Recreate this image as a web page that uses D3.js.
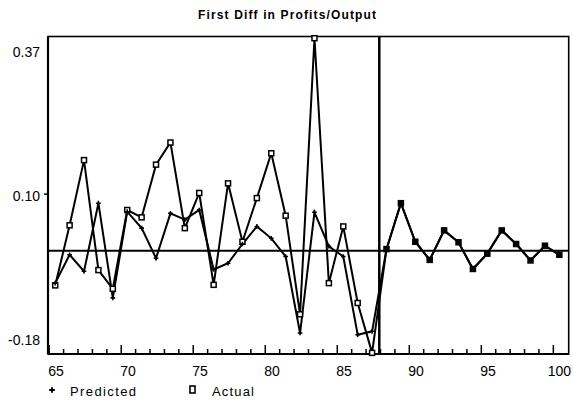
<!DOCTYPE html>
<html>
<head>
<meta charset="utf-8">
<script src="https://cdn.jsdelivr.net/npm/d3@7"></script>
<style>
  body { margin: 0; background: #fff; }
  text { font-family: "Liberation Sans", Arial, sans-serif; fill: #000; }
</style>
</head>
<body>
<div id="root"></div>
<script>
var years = [65, 66, 67, 68, 69, 70, 71, 72, 73, 74, 75, 76, 77, 78, 79, 80, 81, 82,
    83, 84, 85, 86, 87, 88, 89, 90, 91, 92, 93, 94, 95, 96, 97, 98, 99, 100];

var actual = [-0.061, 0.045, 0.160, -0.034, -0.067, 0.072, 0.059, 0.152, 0.191, 0.040,
    0.102, -0.060, 0.119, 0.016, 0.093, 0.172, 0.062, -0.112, 0.375, -0.057,
    0.043, -0.092, -0.180, 0.003, 0.084, 0.016, -0.016, 0.036, 0.015, -0.032,
    -0.005, 0.036, 0.012, -0.017, 0.009, -0.007];

var predicted = [-0.057, -0.007, -0.036, 0.084, -0.083, 0.069, 0.040, -0.013, 0.066, 0.055,
    0.072, -0.033, -0.022, 0.012, 0.043, 0.022, -0.010, -0.145, 0.068, 0.008,
    -0.010, -0.148, -0.142, 0.003, 0.084, 0.016, -0.016, 0.036, 0.015, -0.032,
    -0.005, 0.036, 0.012, -0.017, 0.009, -0.007];

var xTickYears = [65, 66, 67, 68, 69, 70, 71, 72, 73, 74, 75, 76, 77, 78, 79, 80, 81, 82,
    83, 84, 85, 86, 87, 88, 89, 90, 91, 92, 93, 94, 95, 96, 97, 98, 99, 100];
var xLabels = [65, 70, 75, 80, 85, 90, 95, 100];
var yLabels = [0.37, 0.10, -0.18];
var splitYear = 87.5;

var W = 573, H = 403;
var pLeft = 48, pRight = 568.7, pTop = 36.5, pBottom = 354;

var svg = d3.select("#root")
    .append("svg")
    .attr("width", W)
    .attr("height", H);

var x = d3.scaleLinear().domain([64.5, 100.65]).range([pLeft, pRight]);
var y = d3.scaleLinear().domain([-0.182, 0.378]).range([pBottom, pTop]);

// title
svg.append("text")
    .attr("x", 287)
    .attr("y", 19)
    .attr("text-anchor", "middle")
    .attr("font-size", 12)
    .attr("font-weight", "bold")
    .attr("textLength", 178)
    .text("First Diff in Profits/Output");

// frame
svg.append("rect")
    .attr("x", pLeft).attr("y", pTop)
    .attr("width", pRight - pLeft).attr("height", pBottom - pTop)
    .attr("fill", "none").attr("stroke", "#000").attr("stroke-width", 1.6);
svg.append("line")
    .attr("x1", pLeft).attr("x2", pLeft).attr("y1", pTop).attr("y2", pBottom)
    .attr("stroke", "#000").attr("stroke-width", 2.2);
svg.append("line")
    .attr("x1", pLeft).attr("x2", pRight).attr("y1", pBottom).attr("y2", pBottom)
    .attr("stroke", "#000").attr("stroke-width", 2.2);

// x ticks (drawn up from the bottom, slightly left of the year points)
var tickShift = -6;
svg.selectAll(".xt")
    .data(xTickYears)
    .enter()
    .append("line")
    .attr("x1", function (d) { return x(d) + tickShift; })
    .attr("x2", function (d) { return x(d) + tickShift; })
    .attr("y1", pBottom)
    .attr("y2", function (d) { return d % 5 == 0 ? pBottom - 9 : pBottom - 5; })
    .attr("stroke", "#000")
    .attr("stroke-width", 1.5);

svg.selectAll(".xl")
    .data(xLabels)
    .enter()
    .append("text")
    .attr("y", 376)
    .attr("font-size", 14)
    .text(function (d) { return d; })
    .attr("x", function (d) {
        var w = this.getComputedTextLength();
        return Math.min(x(d) + tickShift - 1, 571 - w);
    });

// y labels
var yLabelDy = { "0.37": 16, "0.1": 7, "-0.18": -8 };
svg.selectAll(".yl")
    .data(yLabels)
    .enter()
    .append("text")
    .attr("x", 40)
    .attr("y", function (d) { return y(d) + yLabelDy[String(d)]; })
    .attr("text-anchor", "end")
    .attr("font-size", 14)
    .text(function (d) { return d.toFixed(2); });

svg.append("line")
    .attr("x1", pLeft - 4).attr("x2", pLeft)
    .attr("y1", y(0.10)).attr("y2", y(0.10))
    .attr("stroke", "#000").attr("stroke-width", 1.5);

// zero line and split line
svg.append("line")
    .attr("x1", pLeft).attr("x2", pRight)
    .attr("y1", y(0)).attr("y2", y(0))
    .attr("stroke", "#000").attr("stroke-width", 2);
svg.append("line")
    .attr("x1", x(splitYear)).attr("x2", x(splitYear))
    .attr("y1", pTop).attr("y2", pBottom)
    .attr("stroke", "#000").attr("stroke-width", 2.5);

var line = d3.line()
    .x(function (d) { return x(d[0]); })
    .y(function (d) { return y(d[1]); });

var predPts = years.map(function (d, i) { return [d, predicted[i]]; });
var actPts = years.map(function (d, i) { return [d, actual[i]]; });

svg.append("path")
    .datum(predPts)
    .attr("d", line)
    .attr("fill", "none").attr("stroke", "#000").attr("stroke-width", 2)
    .attr("stroke-linejoin", "miter");
svg.append("path")
    .datum(actPts)
    .attr("d", line)
    .attr("fill", "none").attr("stroke", "#000").attr("stroke-width", 2)
    .attr("stroke-linejoin", "miter");

// actual markers: small squares (solid where both series overlap)
svg.selectAll(".am")
    .data(actPts)
    .enter()
    .append("rect")
    .attr("x", function (d) { return x(d[0]) - 2.5; })
    .attr("y", function (d) { return y(d[1]) - 2.5; })
    .attr("width", 5).attr("height", 5)
    .attr("fill", function (d) { return d[0] > splitYear ? "#000" : "#fff"; })
    .attr("stroke", "#000").attr("stroke-width", 1.5);

// predicted markers: plus
var plus = d3.symbol().type(d3.symbolCross).size(12);
svg.selectAll(".pm")
    .data(predPts)
    .enter()
    .append("path")
    .attr("d", plus)
    .attr("transform", function (d) { return "translate(" + x(d[0]) + "," + y(d[1]) + ")"; })
    .attr("fill", "#000");

// legend
svg.append("path")
    .attr("d", d3.symbol().type(d3.symbolCross).size(18))
    .attr("transform", "translate(52,390)")
    .attr("fill", "#000");
svg.append("text")
    .attr("x", 70).attr("y", 396)
    .attr("font-size", 13)
    .attr("textLength", 66)
    .text("Predicted");
svg.append("rect")
    .attr("x", 190).attr("y", 386)
    .attr("width", 5).attr("height", 7)
    .attr("fill", "#fff").attr("stroke", "#000").attr("stroke-width", 1.6);
svg.append("text")
    .attr("x", 212).attr("y", 396)
    .attr("font-size", 13)
    .attr("textLength", 42)
    .text("Actual");
</script>
</body>
</html>
